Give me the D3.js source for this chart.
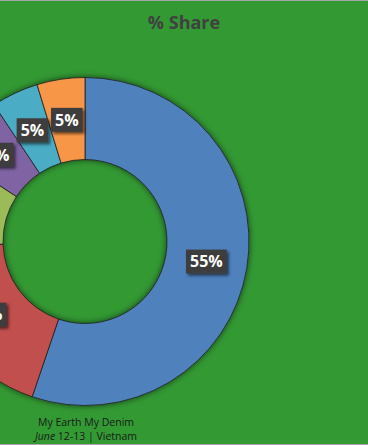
<!DOCTYPE html>
<html>
<head>
<meta charset="utf-8">
<script src="https://cdn.jsdelivr.net/npm/d3@7"></script>
<style>
  html, body { margin: 0; padding: 0; background: #339933; overflow: hidden; }
  svg { display: block; }
</style>
</head>
<body>
<svg id="chart" width="368" height="445"></svg>
<script>
// ---- data ----
const categories = ["A", "B", "C", "D", "E", "F"];
const shareValues = [55, 19.2, 9.7, 6.4, 4.6, 4.7];
const shareLabels = ["55%", "19%", "10%", "6%", "5%", "5%"];
const sliceColors = ["#4F81BD", "#C0504D", "#9BBB59", "#8064A2", "#4BACC6", "#F79646"];
const titleText = "% Share";
const footerLine1 = "My Earth My Denim";

// ---- layout ----
const W = 368, H = 445;
const cx = 85, cy = 241.5;
const outerR = 164, innerR = 82;

const svg = d3.select("#chart");
const defs = svg.append("defs");

// drop shadow for donut
const sh = defs.append("filter").attr("id", "donutShadow")
  .attr("x", "-20%").attr("y", "-20%").attr("width", "140%").attr("height", "140%");
sh.append("feGaussianBlur").attr("in", "SourceAlpha").attr("stdDeviation", 3).attr("result", "b");
sh.append("feOffset").attr("in", "b").attr("dx", 0).attr("dy", 0).attr("result", "o");
sh.append("feComponentTransfer").attr("in", "o").attr("result", "o2")
  .append("feFuncA").attr("type", "linear").attr("slope", 0.6);
const m = sh.append("feMerge");
m.append("feMergeNode").attr("in", "o2");
m.append("feMergeNode").attr("in", "SourceGraphic");

// label shadow
const ls = defs.append("filter").attr("id", "labelShadow")
  .attr("x", "-30%").attr("y", "-30%").attr("width", "170%").attr("height", "170%");
ls.append("feGaussianBlur").attr("in", "SourceAlpha").attr("stdDeviation", 1.5).attr("result", "b");
ls.append("feOffset").attr("in", "b").attr("dx", 2).attr("dy", 2).attr("result", "o");
ls.append("feComponentTransfer").attr("in", "o").attr("result", "o2")
  .append("feFuncA").attr("type", "linear").attr("slope", 0.6);
const m2 = ls.append("feMerge");
m2.append("feMergeNode").attr("in", "o2");
m2.append("feMergeNode").attr("in", "SourceGraphic");

// background
svg.append("rect").attr("x", 0).attr("y", 0).attr("width", W).attr("height", H).attr("fill", "#339933");
svg.append("line").attr("x1", 0).attr("x2", W).attr("y1", 0.5).attr("y2", 0.5)
  .attr("stroke", "#a6a6a6").attr("stroke-width", 1);
svg.append("line").attr("x1", 0).attr("x2", W).attr("y1", H - 0.5).attr("y2", H - 0.5)
  .attr("stroke", "#a6a6a6").attr("stroke-width", 1);

// title
svg.append("text").attr("x", W / 2).attr("y", 29).attr("text-anchor", "middle")
  .attr("font-family", "'Open Sans', sans-serif").attr("font-weight", "bold")
  .attr("font-size", 18).attr("fill", "#404040").text(titleText);

// donut
const data = categories.map((c, i) => ({ cat: c, value: shareValues[i], label: shareLabels[i], color: sliceColors[i] }));
const pie = d3.pie().value(d => d.value).sort(null);
const arcs = pie(data);
const arc = d3.arc().innerRadius(innerR).outerRadius(outerR);

const g = svg.append("g").attr("transform", `translate(${cx},${cy})`);
g.append("g").attr("filter", "url(#donutShadow)")
  .selectAll("path").data(arcs).join("path")
  .attr("d", arc).attr("fill", d => d.data.color)
  .attr("stroke", "#1f1f1f").attr("stroke-width", 0.8);

// labels
const lg = g.append("g").selectAll("g").data(arcs).join("g")
  .attr("transform", d => `translate(${arc.centroid(d)})`);
lg.each(function(d) {
  const gg = d3.select(this);
  const t = gg.append("text").attr("text-anchor", "middle").attr("dy", "0.36em")
    .attr("font-family", "'Open Sans', sans-serif").attr("font-weight", "bold")
    .attr("font-size", 16).attr("fill", "#ffffff").text(d.data.label);
  const bb = t.node().getBBox();
  gg.insert("rect", "text")
    .attr("x", bb.x - 4).attr("y", -12).attr("width", bb.width + 8).attr("height", 24)
    .attr("fill", "#3c3c3c").attr("filter", "url(#labelShadow)");
});

// footer
const ft = svg.append("g").attr("font-family", "'Open Sans', sans-serif")
  .attr("font-size", 10.5).attr("fill", "#1a1a1a").attr("text-anchor", "middle");
ft.append("text").attr("x", 86).attr("y", 426).text(footerLine1);
const l2 = ft.append("text").attr("x", 86).attr("y", 440);
l2.append("tspan").attr("font-style", "italic").text("June");
l2.append("tspan").text(" 12-13 | Vietnam");
</script>
</body>
</html>
